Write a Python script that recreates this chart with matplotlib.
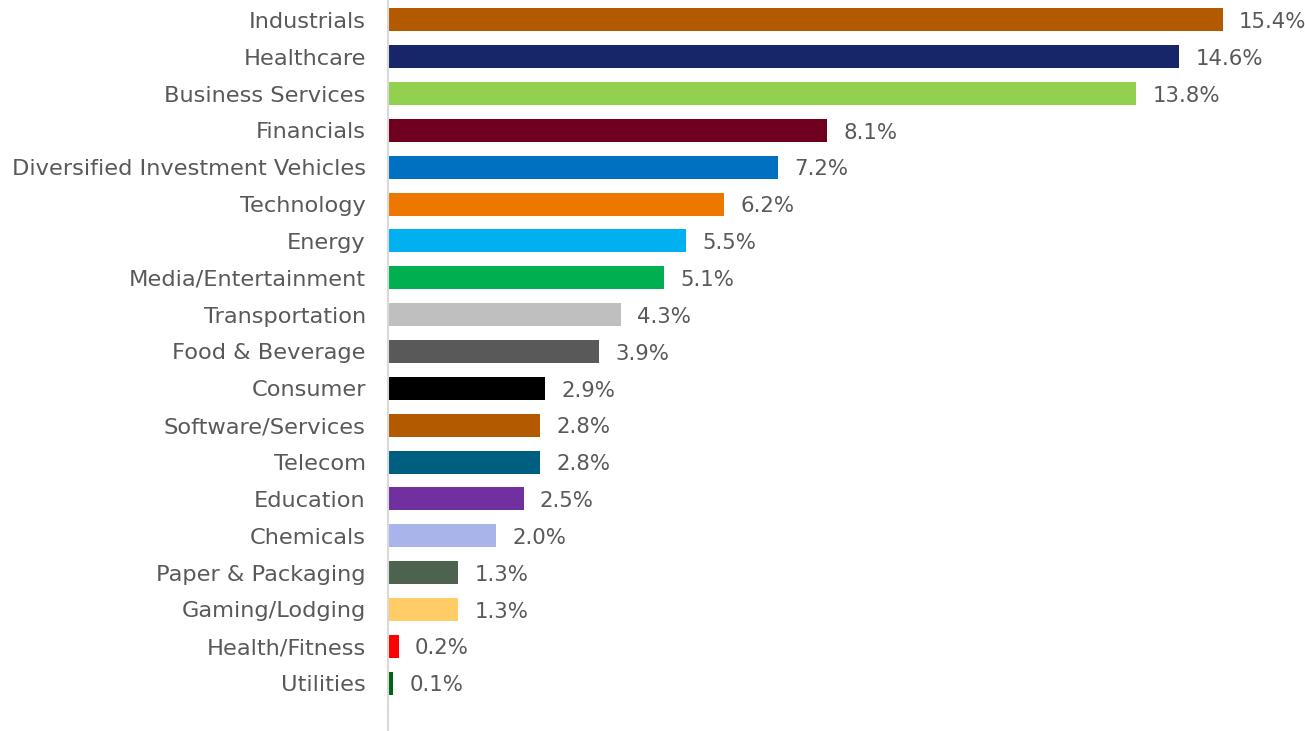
import matplotlib
matplotlib.use("Agg")
import matplotlib.pyplot as plt

sectors = ["Industrials", "Healthcare", "Business Services", "Financials",
           "Diversified Investment Vehicles", "Technology", "Energy",
           "Media/Entertainment", "Transportation", "Food & Beverage",
           "Consumer", "Software/Services", "Telecom", "Education",
           "Chemicals", "Paper & Packaging", "Gaming/Lodging",
           "Health/Fitness", "Utilities"]
shares = [15.4, 14.6, 13.8, 8.1, 7.2, 6.2, 5.5, 5.1, 4.3, 3.9,
          2.9, 2.8, 2.8, 2.5, 2.0, 1.3, 1.3, 0.2, 0.1]
colors = ["#B35900", "#172668", "#92D050", "#700020", "#0070C0", "#EE7700",
          "#00B0F0", "#00B050", "#BFBFBF", "#595959", "#000000", "#B35900",
          "#005F80", "#7030A0", "#A9B5EA", "#4E634F", "#FFCC66", "#FF0000",
          "#006414"]

text_color = "#595959"
plt.rcParams["font.family"] = ["DejaVu Sans"]

fig = plt.figure(figsize=(13.05, 7.31), dpi=100)
ax = fig.add_axes([388 / 1305, 0, 1 - 388 / 1305, 1])

y = list(range(len(sectors)))
ax.barh(y, shares, height=0.625, color=colors, zorder=2)

# value labels just right of each bar
for yi, v in zip(y, shares):
    ax.text(v + 0.3, yi + 0.06, f"{v:.1f}%", va="center", ha="left",
            fontsize=15.3, color=text_color)

ax.set_yticks(y)
ax.set_yticklabels(sectors, fontsize=16.2, color=text_color)
ax.tick_params(axis="y", length=0, pad=16)
ax.set_xticks([])
ax.set_xlim(0, 917 / 54.2)
ax.set_ylim(len(sectors) - 1 + 1.3, -0.54)

for side in ["top", "right", "bottom"]:
    ax.spines[side].set_visible(False)
ax.spines["left"].set_color("#D9D9D9")
ax.spines["left"].set_linewidth(1.5)

fig.savefig("out.png", dpi=100)
